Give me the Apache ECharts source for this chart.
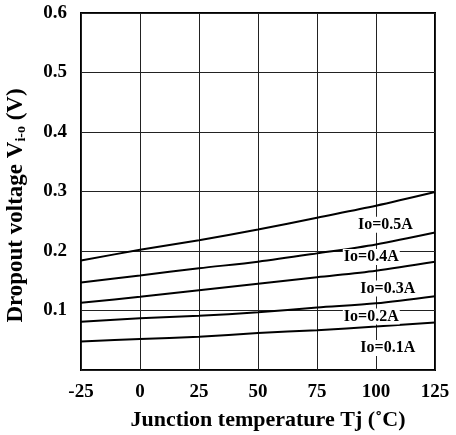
<!DOCTYPE html>
<html>
<head>
<meta charset="utf-8">
<script src="https://cdn.jsdelivr.net/npm/echarts@6/dist/echarts.min.js"></script>
<style>html,body{margin:0;padding:0;background:#fff}#c{width:456px;height:435px}</style>
</head>
<body>
<div id="c"></div>
<script>
var temps = [-25, 0, 25, 50, 75, 100, 125];
var io01 = [0.048, 0.052, 0.056, 0.062, 0.067, 0.073, 0.080];
var io02 = [0.081, 0.087, 0.091, 0.097, 0.105, 0.112, 0.124];
var io03 = [0.113, 0.123, 0.134, 0.145, 0.156, 0.167, 0.182];
var io04 = [0.147, 0.159, 0.171, 0.182, 0.196, 0.211, 0.231];
var io05 = [0.184, 0.202, 0.218, 0.236, 0.256, 0.276, 0.299];
var seriesNames = ['Io=0.1A', 'Io=0.2A', 'Io=0.3A', 'Io=0.4A', 'Io=0.5A'];
var labelAt = [[105, 0.037], [98, 0.090], [105, 0.137], [98, 0.190], [104, 0.244]];
var xTicks = [-25, 0, 25, 50, 75, 100, 125];
var yTicks = [0, 0.1, 0.2, 0.3, 0.4, 0.5, 0.6];

var FONT = '"Liberation Serif", "DejaVu Serif", serif';
var allData = [io01, io02, io03, io04, io05];
var chart = echarts.init(document.getElementById('c'));
var series = allData.map(function (vals, i) {
  return {
    name: seriesNames[i],
    type: 'line',
    symbol: 'none',
    smooth: 0.3,
    lineStyle: { color: '#000', width: 2 },
    data: temps.map(function (t, j) { return [t, vals[j]]; }),
    markPoint: {
      symbol: 'rect', symbolSize: 1,
      itemStyle: { color: 'rgba(0,0,0,0)' },
      data: [{ coord: labelAt[i], value: seriesNames[i] }],
      label: {
        show: true, position: 'inside', formatter: seriesNames[i],
        fontFamily: FONT, fontWeight: 'bold', fontSize: 16, color: '#000',
        backgroundColor: '#fff', padding: [0, 1]
      }
    },
    z: 3
  };
});
chart.setOption({
  animation: false,
  backgroundColor: '#fff',
  grid: { left: 81, right: 21, top: 13, bottom: 65, outerBoundsMode: 'none', containLabel: false,
    show: true, borderColor: '#000', borderWidth: 2, backgroundColor: 'transparent' },
  xAxis: {
    type: 'value', min: -25, max: 125, interval: 25,
    name: 'Junction temperature Tj (˚C)',
    nameLocation: 'middle', nameGap: 39,
    nameTextStyle: { fontFamily: FONT, fontWeight: 'bold', fontSize: 22, color: '#000', padding: [0, 0, 0, 20] },
    axisLine: { show: false }, axisTick: { show: false },
    axisLabel: { fontFamily: FONT, fontWeight: 'bold', fontSize: 19, color: '#000', margin: 13,
      formatter: function (v) { return xTicks.indexOf(v) >= 0 ? String(v) : ''; } },
    splitLine: { show: true, lineStyle: { color: '#222', width: 1 } }
  },
  yAxis: {
    type: 'value', min: 0, max: 0.6, interval: 0.1,
    name: '{m|Dropout voltage V}{s|i-o}{m| (V)}',
    nameLocation: 'middle', nameGap: 53, nameRotate: 90,
    nameTextStyle: {
      fontFamily: FONT, fontWeight: 'bold', fontSize: 23, color: '#000', padding: [0, 28, 0, 0],
      rich: {
        m: { fontFamily: FONT, fontWeight: 'bold', fontSize: 23, color: '#000' },
        s: { fontFamily: FONT, fontWeight: 'bold', fontSize: 14, color: '#000', padding: [9, 0, 0, 0] }
      }
    },
    axisLine: { show: false }, axisTick: { show: false },
    axisLabel: { fontFamily: FONT, fontWeight: 'bold', fontSize: 19, color: '#000', margin: 14,
      formatter: function (v) { return v === 0 ? '' : v.toFixed(1); } },
    splitLine: { show: true, lineStyle: { color: '#222', width: 1 } }
  },
  series: series
});
</script>
</body>
</html>
